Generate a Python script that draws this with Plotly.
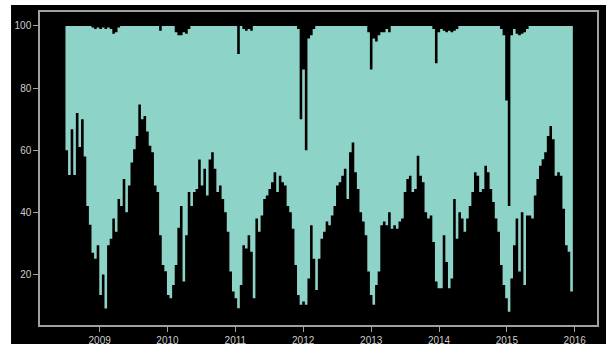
import pandas as pd
import plotly.graph_objects as go

# bi-weekly sampling of daily min / max values
dates = pd.date_range("2008-07-01", periods=196, freq="14D")

low = [
    60, 52, 66.7, 52, 72, 61, 70, 58, 42, 36,
    27, 25, 29.4, 13.4, 20, 9, 29.4, 31.5, 38, 33.7,
    44.3, 42, 50.7, 40, 48.6, 56, 60.3, 64.6, 74.7, 70,
    71, 66, 61.4, 59.3, 48.6, 46.5, 32.6, 23, 21, 13.4,
    12.3, 16.6, 23, 35, 42, 17.7, 32.6, 46.5, 42, 46.5,
    47.5, 57, 48.6, 54, 45.4, 57, 59.3, 54, 46.5, 48.6,
    44.3, 40, 33.7, 20.9, 14.5, 12.3, 9.1, 16.6, 29.4, 28.3,
    32.6, 27.3, 12.3, 38, 33.7, 39, 44.3, 45.4, 47.5, 49.7,
    52.9, 46.5, 51.8, 49.7, 48.6, 42, 40, 34.7, 23, 13.4,
    10.2, 11.3, 10.2, 18.7, 35.8, 25, 15, 25, 31.5, 33.7,
    37, 35.8, 39, 42, 48.6, 49.7, 51.8, 54, 44.3, 59.3,
    62.5, 52.9, 47.5, 40, 37, 32.6, 20.9, 13.4, 10.2, 16.6,
    20.9, 35.8, 37, 35.8, 40, 34.7, 35.8, 34.7, 37, 38,
    46.5, 50.7, 51.8, 46.5, 47.5, 58.2, 51.8, 49.7, 40, 38,
    39, 30.4, 17.7, 15.5, 15.5, 32.6, 24, 15.5, 18.7, 44.3,
    31.5, 40, 38, 33.7, 38, 42, 46.5, 52.9, 51.8, 46.5,
    47.5, 55, 52.9, 47.5, 43.3, 38, 33.7, 23, 16.6, 12.3,
    8, 18.7, 29.4, 38, 20.9, 40, 16.6, 39, 39, 38,
    45.4, 50.7, 55, 57.1, 59.3, 64.6, 67.8, 63.5, 51.8, 52.9,
    51.8, 41.1, 29.4, 27.3, 14.5, 12.3,
]

high = [
    100, 100, 100, 100, 100, 100, 100, 100, 100, 100,
    99.5, 99, 99.5, 99, 99.5, 99, 99.5, 99, 97.5, 98,
    99.5, 100, 100, 100, 100, 100, 100, 100, 100, 100,
    100, 100, 100, 100, 100, 100, 98.5, 100, 100, 100,
    100, 100, 98, 97, 97, 98, 97.5, 99, 100, 100,
    100, 100, 100, 100, 100, 100, 100, 100, 100, 100,
    100, 100, 100, 100, 100, 100, 91, 100, 99, 98.5,
    99, 98.5, 100, 100, 100, 100, 100, 100, 100, 100,
    100, 100, 100, 100, 100, 100, 100, 100, 100, 99,
    70, 86, 60, 96, 97, 99, 100, 100, 100, 100,
    100, 100, 100, 100, 100, 100, 100, 100, 100, 100,
    100, 100, 100, 100, 100, 100, 98, 86, 96, 95,
    97, 98, 98, 99, 98, 100, 100, 100, 100, 100,
    100, 100, 100, 100, 100, 100, 100, 100, 100, 100,
    100, 99, 88, 98, 99, 98.5, 98, 98.5, 98, 98.5,
    99, 100, 100, 100, 100, 100, 100, 100, 100, 100,
    100, 100, 100, 100, 100, 100, 100, 99, 97, 76,
    42, 97, 99, 97.5, 97, 97.5, 98, 99, 100, 100,
    100, 100, 100, 100, 100, 100, 100, 100, 100, 100,
    100, 100, 100, 100, 100, 82,
]

fill_color = "#8dd3c7"

fig = go.Figure()
fig.add_trace(go.Scatter(
    x=dates, y=low, mode="lines", line=dict(width=0, color=fill_color, shape="hv"),
    hoverinfo="skip", showlegend=False,
))
fig.add_trace(go.Scatter(
    x=dates, y=high, mode="lines", line=dict(width=0, color=fill_color, shape="hv"),
    fill="tonexty", fillcolor=fill_color, showlegend=False,
))

axis_color = "#a0a0a0"
font_color = "#cccccc"

fig.update_layout(
    width=606, height=353,
    margin=dict(l=40, r=7, t=12, b=26),
    paper_bgcolor="white",
    plot_bgcolor="black",
    font=dict(family="Liberation Sans, Arial, sans-serif", size=10, color=font_color),
    shapes=[dict(type="rect", xref="paper", yref="paper",
                 x0=-0.052, x1=1.02, y0=-0.061, y1=1.0222,
                 fillcolor="black", line=dict(width=0), layer="below")],
)
fig.update_xaxes(
    type="date", range=["2008-02-15", "2016-04-30"],
    tickvals=[f"{y}-01-01" for y in range(2009, 2017)],
    ticktext=[str(y) for y in range(2009, 2017)],
    showgrid=False, zeroline=False,
    showline=True, linecolor=axis_color, linewidth=1.5, mirror=True,
    ticks="outside", ticklen=5, tickcolor=axis_color, tickwidth=1,
)
fig.update_yaxes(
    range=[3.7, 104.5],
    tickvals=[20, 40, 60, 80, 100],
    showgrid=False, zeroline=False,
    showline=True, linecolor=axis_color, linewidth=1.5, mirror=True,
    ticks="outside", ticklen=5, tickcolor=axis_color, tickwidth=1,
)

fig.write_html("out.html")
